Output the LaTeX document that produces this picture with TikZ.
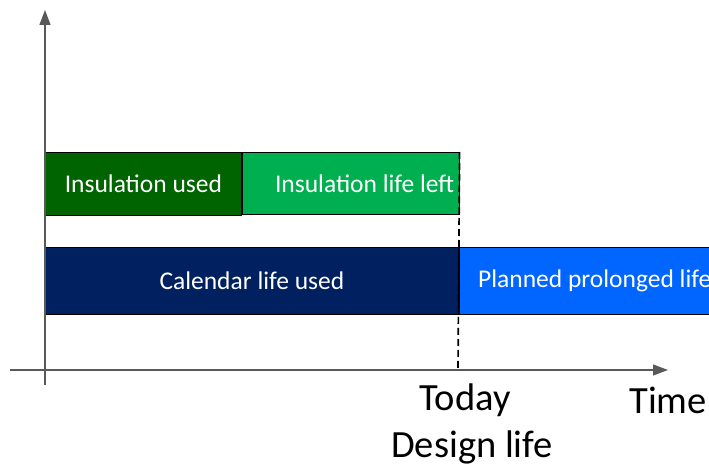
\documentclass[tikz,border=0pt]{standalone}
\usepackage{fontspec}
\setmainfont{Carlito}
\usetikzlibrary{arrows.meta}
\definecolor{usedgreen}{RGB}{0,100,0}
\definecolor{leftgreen}{RGB}{0,176,80}
\definecolor{calnavy}{RGB}{0,32,96}
\definecolor{prolblue}{RGB}{0,102,255}
\definecolor{axisgray}{RGB}{89,89,89}
\tikzset{
  bar/.style={draw=black, line width=0.8pt, text=white, inner sep=0pt,
    font=\fontsize{25.5}{30}\selectfont},
  axis/.style={draw=axisgray, line width=1.3pt},
  tick/.style={font=\fontsize{38.5}{46}\selectfont}
}

\begin{document}
\begin{tikzpicture}[x=1pt,y=-1pt]
\useasboundingbox (0,0) rectangle (709,465);
\clip (0,0) rectangle (709,465);
\node[bar, fill=usedgreen, anchor=north west, minimum width=196, minimum height=63] (insused) at (45,152) {Insulation used};
\node[bar, fill=leftgreen, anchor=north west, text width=207, inner xsep=5, align=flush right, minimum height=62] (insleft) at (insused.north east) {Insulation life left};
\node[bar, fill=calnavy, anchor=north west, minimum width=413, minimum height=67] (calused) at (45,247) {Calendar life used};
\node[bar, fill=prolblue, anchor=west, text width=262, inner xsep=19, minimum height=67, align=flush left] (planned) at (calused.east) {Planned prolonged life};
\coordinate (ytop) at (45,10);
\coordinate (ybot) at (45,385);
\coordinate (xleft) at (10,370);
\coordinate (xright) at (668,370);
\coordinate (today) at (458,370);
\draw[axis, -{Triangle[length=15pt,width=11pt]}] (ybot) -- (ytop);
\draw[axis, -{Triangle[length=15pt,width=11pt]}] (xleft) -- (xright);
\draw[line width=1.7pt, dash pattern=on 7pt off 4pt] (insleft.north east) -- (today);
\node[tick] (todaylbl) at (465,400) {Today};
\node[tick] (designlbl) at (472,447) {Design life};
\node[tick] (timelbl) at (668,400) {Time};
\end{tikzpicture}
\end{document}
